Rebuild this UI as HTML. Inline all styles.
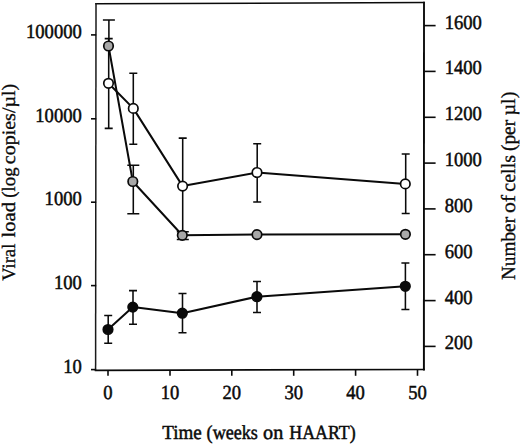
<!DOCTYPE html>
<html><head><meta charset="utf-8">
<style>
html,body{margin:0;padding:0;background:#fff;}
body{width:520px;height:444px;overflow:hidden;}
svg{display:block;}
text{font-family:"Liberation Serif",serif;fill:#0a0a0a;stroke:#0a0a0a;stroke-width:0.5px;text-rendering:geometricPrecision;}
.vt text{stroke-width:0.3px;}
</style></head><body>
<svg width="520" height="444" viewBox="0 0 520 444">
<!-- axes box -->
<g stroke="#0a0a0a" fill="none" stroke-linecap="square">
<line x1="96" y1="3.7" x2="424" y2="2.6" stroke-width="1.5"/>
<line x1="424" y1="2.6" x2="423.9" y2="369.5" stroke-width="1.9"/>
<line x1="95.6" y1="370.3" x2="423.9" y2="369.5" stroke-width="1.7"/>
<line x1="96" y1="3.7" x2="95.6" y2="370.3" stroke-width="1.5" stroke="#1a1a1a"/>
</g>
<!-- left ticks -->
<g stroke="#0a0a0a" stroke-width="1.6">
<line x1="91" y1="34.9" x2="96.2" y2="34.9"/>
<line x1="91" y1="118.8" x2="96.2" y2="118.8"/>
<line x1="91" y1="202.2" x2="96.2" y2="202.2"/>
<line x1="91" y1="285.6" x2="96.2" y2="285.6"/>
<line x1="91" y1="369.6" x2="96.2" y2="369.6"/>
<!-- right ticks -->
<line x1="424" y1="25.6" x2="435.6" y2="25.6"/>
<line x1="424" y1="71.4" x2="435.6" y2="71.4"/>
<line x1="424" y1="117.3" x2="435.6" y2="117.3"/>
<line x1="424" y1="163.1" x2="435.6" y2="163.1"/>
<line x1="424" y1="208.9" x2="435.6" y2="208.9"/>
<line x1="424" y1="254.7" x2="435.6" y2="254.7"/>
<line x1="424" y1="300.6" x2="435.6" y2="300.6"/>
<line x1="424" y1="346.4" x2="435.6" y2="346.4"/>
<!-- bottom ticks -->
<line x1="108" y1="370" x2="108" y2="375.8"/>
<line x1="170" y1="370" x2="170" y2="375.8"/>
<line x1="231.8" y1="370" x2="231.8" y2="375.8"/>
<line x1="293.7" y1="370" x2="293.7" y2="375.8"/>
<line x1="355.6" y1="370" x2="355.6" y2="375.8"/>
<line x1="417.5" y1="370" x2="417.5" y2="375.8"/>
</g>
<!-- left labels -->
<g font-size="20" text-anchor="end">
<text x="81.8" y="37.9" textLength="55.8" lengthAdjust="spacingAndGlyphs">100000</text>
<text x="81.8" y="121.8" textLength="46.5" lengthAdjust="spacingAndGlyphs">10000</text>
<text x="81.8" y="205.2" textLength="37.2" lengthAdjust="spacingAndGlyphs">1000</text>
<text x="81.8" y="288.6" textLength="27.9" lengthAdjust="spacingAndGlyphs">100</text>
<text x="81.8" y="372.6" textLength="18.6" lengthAdjust="spacingAndGlyphs">10</text>
</g>
<!-- right labels -->
<g font-size="20" text-anchor="start">
<text x="444.7" y="28.6" textLength="37.2" lengthAdjust="spacingAndGlyphs">1600</text>
<text x="444.7" y="74.4" textLength="37.2" lengthAdjust="spacingAndGlyphs">1400</text>
<text x="444.7" y="120.3" textLength="37.2" lengthAdjust="spacingAndGlyphs">1200</text>
<text x="444.7" y="166.1" textLength="37.2" lengthAdjust="spacingAndGlyphs">1000</text>
<text x="444.7" y="211.9" textLength="27.9" lengthAdjust="spacingAndGlyphs">800</text>
<text x="444.7" y="257.7" textLength="27.9" lengthAdjust="spacingAndGlyphs">600</text>
<text x="444.7" y="303.6" textLength="27.9" lengthAdjust="spacingAndGlyphs">400</text>
<text x="444.7" y="349.4" textLength="27.9" lengthAdjust="spacingAndGlyphs">200</text>
</g>
<!-- bottom labels -->
<g font-size="20" text-anchor="middle">
<text x="108" y="398.8" textLength="9.3" lengthAdjust="spacingAndGlyphs">0</text>
<text x="170" y="398.8" textLength="18.6" lengthAdjust="spacingAndGlyphs">10</text>
<text x="231.8" y="398.8" textLength="18.6" lengthAdjust="spacingAndGlyphs">20</text>
<text x="293.7" y="398.8" textLength="18.6" lengthAdjust="spacingAndGlyphs">30</text>
<text x="355.6" y="398.8" textLength="18.6" lengthAdjust="spacingAndGlyphs">40</text>
<text x="417.5" y="398.8" textLength="18.6" lengthAdjust="spacingAndGlyphs">50</text>
</g>
<!-- axis titles -->
<g font-size="20">
<text x="162.3" y="438.9" textLength="39.5" lengthAdjust="spacingAndGlyphs">Time</text>
<text x="206.6" y="438.9" textLength="51.3" lengthAdjust="spacingAndGlyphs">(weeks</text>
<text x="263.1" y="438.9" textLength="20.2" lengthAdjust="spacingAndGlyphs">on</text>
<text x="289.3" y="438.9" textLength="66.4" lengthAdjust="spacingAndGlyphs">HAART)</text>
</g>
<g font-size="19" class="vt">
<text transform="translate(14.6,280.8) rotate(-90)" textLength="37.1" lengthAdjust="spacingAndGlyphs">Viral</text>
<text transform="translate(14.6,237.5) rotate(-90)" textLength="35.6" lengthAdjust="spacingAndGlyphs">load</text>
<text transform="translate(14.6,197.7) rotate(-90)" textLength="30.3" lengthAdjust="spacingAndGlyphs">(log</text>
<text transform="translate(14.6,164.2) rotate(-90)" textLength="80.4" lengthAdjust="spacingAndGlyphs">copies/µl)</text>
</g>
<g font-size="20" class="vt">
<text transform="translate(515,280.1) rotate(-90)" textLength="63.2" lengthAdjust="spacingAndGlyphs">Number</text>
<text transform="translate(515,213.1) rotate(-90)" textLength="18.2" lengthAdjust="spacingAndGlyphs">of</text>
<text transform="translate(515,191.7) rotate(-90)" textLength="36.7" lengthAdjust="spacingAndGlyphs">cells</text>
<text transform="translate(515,151.0) rotate(-90)" textLength="31.1" lengthAdjust="spacingAndGlyphs">(per</text>
<text transform="translate(515,115.5) rotate(-90)" textLength="23.9" lengthAdjust="spacingAndGlyphs">µl)</text>
</g>

<!-- error bars -->
<g stroke="#0a0a0a" stroke-width="1.55" fill="none">
<!-- white -->
<path d="M108.7 38.6 V128.4 M104.7 38.6 H112.7 M104.7 128.4 H112.7"/>
<path d="M133.3 73.2 V144.2 M129.3 73.2 H137.3 M129.3 144.2 H137.3"/>
<path d="M182.7 138.1 V234.1 M178.7 138.1 H186.7"/>
<path d="M257.2 143.7 V202 M253.2 143.7 H261.2 M253.2 202 H261.2"/>
<path d="M405.7 153.9 V213.5 M401.7 153.9 H409.7 M401.7 213.5 H409.7"/>
<!-- gray -->
<path d="M108.9 19.9 V46 M102.9 19.9 H114.9"/>
<path d="M133.3 165.3 V213.8 M127.3 165.3 H139.3 M127.3 213.8 H139.3"/>
<path d="M176.8 231.7 H188.8 M176.8 239.5 H188.8"/>
<!-- black -->
<path d="M108.2 315.4 V343.3 M104.2 315.4 H112.2 M104.2 343.3 H112.2"/>
<path d="M133 290.6 V324.3 M129 290.6 H137 M129 324.3 H137"/>
<path d="M182.5 293.4 V332.7 M178.5 293.4 H186.5 M178.5 332.7 H186.5"/>
<path d="M257 281.4 V312.5 M253 281.4 H261 M253 312.5 H261"/>
<path d="M405.4 262.9 V309.5 M401.4 262.9 H409.4 M401.4 309.5 H409.4"/>
</g>

<!-- data lines -->
<g stroke="#0a0a0a" stroke-width="2.0" fill="none" stroke-linejoin="round">
<polyline points="108.5,83.3 133.3,108.4 182.6,186.1 257,172.5 405.3,183.9"/>
<polyline points="108.5,46 132.8,181.5 182.3,235.3 257,234.6 405.4,234.3"/>
<polyline points="108,329.5 132.8,307.1 182.3,313.2 256.9,296.7 405.3,286.3"/>
</g>

<!-- markers -->
<g stroke="#0a0a0a" stroke-width="1.7">
<g fill="#fff">
<circle cx="108.5" cy="83.3" r="4.75"/>
<circle cx="133.3" cy="108.4" r="4.75"/>
<circle cx="182.6" cy="186.1" r="4.75"/>
<circle cx="257" cy="172.5" r="4.75"/>
<circle cx="405.3" cy="183.9" r="4.75"/>
</g>
<g fill="#a8a8a8">
<circle cx="108.5" cy="46" r="4.75"/>
<circle cx="132.8" cy="181.5" r="4.75"/>
<circle cx="182.3" cy="235.3" r="4.75"/>
<circle cx="257" cy="234.6" r="4.75"/>
<circle cx="405.4" cy="234.3" r="4.75"/>
</g>
<g fill="#0a0a0a">
<circle cx="108" cy="329.5" r="4.75"/>
<circle cx="132.8" cy="307.1" r="4.75"/>
<circle cx="182.3" cy="313.2" r="4.75"/>
<circle cx="256.9" cy="296.7" r="4.75"/>
<circle cx="405.3" cy="286.3" r="4.75"/>
</g>
</g>
</svg>
</body></html>
